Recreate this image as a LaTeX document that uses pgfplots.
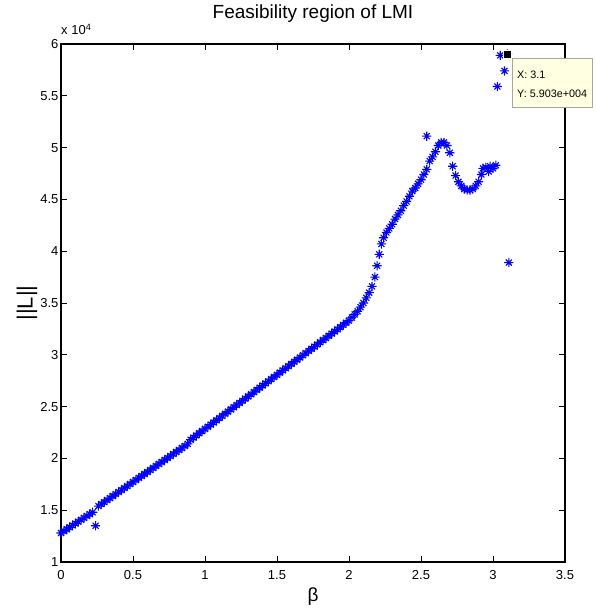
\documentclass[border=0pt]{standalone}
\usepackage{pgfplots}
\pgfplotsset{compat=1.18}
\usepackage{fontspec}
\setmainfont{Liberation Sans}

\definecolor{tipyellow}{RGB}{255,255,225}

% MATLAB-like '*' marker: a plus and a cross
\pgfdeclareplotmark{mstar}{%
  \pgfpathmoveto{\pgfqpoint{-\pgfplotmarksize}{0pt}}%
  \pgfpathlineto{\pgfqpoint{\pgfplotmarksize}{0pt}}%
  \pgfpathmoveto{\pgfqpoint{0pt}{-\pgfplotmarksize}}%
  \pgfpathlineto{\pgfqpoint{0pt}{\pgfplotmarksize}}%
  \pgfpathmoveto{\pgfqpoint{-0.65\pgfplotmarksize}{-0.65\pgfplotmarksize}}%
  \pgfpathlineto{\pgfqpoint{0.65\pgfplotmarksize}{0.65\pgfplotmarksize}}%
  \pgfpathmoveto{\pgfqpoint{-0.65\pgfplotmarksize}{0.65\pgfplotmarksize}}%
  \pgfpathlineto{\pgfqpoint{0.65\pgfplotmarksize}{-0.65\pgfplotmarksize}}%
  \pgfusepathqstroke}

\begin{document}
\begin{tikzpicture}
  \path (0pt,0pt) rectangle (595pt,613pt);
  \begin{axis}[
      at={(61pt,51pt)}, anchor=south west,
      scale only axis, width=504pt, height=518pt,
      xmin=0, xmax=3.5, ymin=10000, ymax=60000,
      xtick={0,0.5,...,3.5},
      xticklabels={0,0.5,1,1.5,2,2.5,3,3.5},
      ytick={10000,15000,...,60000},
      yticklabels={1,1.5,2,2.5,3,3.5,4,4.5,5,5.5,6},
      scaled y ticks=false,
      tick label style={font=\fontsize{13}{15}\selectfont},
      xticklabel style={yshift=-5pt},
      yticklabel style={xshift=1pt},
      major tick length=6pt,
      tick style={black, line width=0.9pt},
      axis line style={line width=1.6pt},
      title={Feasibility region of LMI},
      title style={font=\fontsize{19}{22}\selectfont, at={(axis description cs:0.5,1.048)}, anchor=center},
      xlabel={β},
      xlabel style={font=\fontsize{19}{22}\selectfont, at={(axis description cs:0.5,-0.0676)}, anchor=center},
      ylabel={||L||},
      ylabel style={font=\fontsize{22}{24}\selectfont, at={(axis description cs:-0.0675,0.5)}, anchor=center},
      clip=false,
    ]

    % feasible ||L|| against beta
    \addplot[only marks, blue, mark=mstar, mark size=4.6pt, line width=1.1pt] table {
      x y
      0.00 12800
      0.02 12980
      0.04 13160
      0.06 13350
      0.08 13530
      0.10 13710
      0.12 13890
      0.14 14070
      0.16 14260
      0.18 14440
      0.20 14620
      0.22 14800
      0.24 13500
      0.26 15400
      0.28 15590
      0.30 15780
      0.32 15980
      0.34 16170
      0.36 16360
      0.38 16560
      0.40 16750
      0.42 16940
      0.44 17140
      0.46 17330
      0.48 17520
      0.50 17720
      0.52 17910
      0.54 18110
      0.56 18300
      0.58 18490
      0.60 18690
      0.62 18880
      0.64 19070
      0.66 19270
      0.68 19460
      0.70 19650
      0.72 19850
      0.74 20040
      0.76 20230
      0.78 20430
      0.80 20620
      0.82 20810
      0.84 21010
      0.86 21200
      0.88 21400
      0.90 21800
      0.92 22010
      0.94 22220
      0.96 22430
      0.98 22640
      1.00 22850
      1.02 23050
      1.04 23260
      1.06 23470
      1.08 23680
      1.10 23890
      1.12 24100
      1.14 24310
      1.16 24520
      1.18 24730
      1.20 24940
      1.22 25150
      1.24 25350
      1.26 25560
      1.28 25770
      1.30 25980
      1.32 26190
      1.34 26400
      1.36 26610
      1.38 26820
      1.40 27030
      1.42 27240
      1.44 27440
      1.46 27650
      1.48 27860
      1.50 28070
      1.52 28280
      1.54 28490
      1.56 28700
      1.58 28910
      1.60 29120
      1.62 29330
      1.64 29530
      1.66 29740
      1.68 29950
      1.70 30160
      1.72 30370
      1.74 30580
      1.76 30790
      1.78 31000
      1.80 31210
      1.82 31420
      1.84 31620
      1.86 31830
      1.88 32040
      1.90 32250
      1.92 32460
      1.94 32670
      1.96 32880
      1.98 33090
      2.00 33300
      2.02 33600
      2.04 33900
      2.06 34200
      2.08 34600
      2.10 35000
      2.12 35500
      2.14 36000
      2.16 36600
      2.18 37500
      2.195 38600
      2.21 39700
      2.225 40700
      2.24 41300
      2.26 41800
      2.28 42200
      2.30 42600
      2.32 43100
      2.34 43500
      2.36 43900
      2.38 44400
      2.40 44800
      2.42 45300
      2.44 45800
      2.46 46100
      2.48 46500
      2.50 46900
      2.52 47400
      2.54 47900
      2.54 51100
      2.56 48700
      2.58 49100
      2.60 49600
      2.62 50200
      2.64 50500
      2.66 50500
      2.68 50200
      2.70 49500
      2.72 48200
      2.74 47300
      2.76 46700
      2.78 46300
      2.80 46000
      2.82 45900
      2.84 45900
      2.86 46000
      2.88 46300
      2.90 46700
      2.92 47400
      2.93 48000
      2.95 48100
      2.97 47700
      2.98 48200
      3.00 48000
      3.02 48300
      3.03 55900
      3.05 58900
      3.08 57400
      3.10 59030
      3.11 38900
    };

    % data tip marker
    \addplot[only marks, mark=square*, mark size=4pt, mark options={fill=black, draw=tipyellow}] coordinates {(3.1,59030)};

    \node[anchor=base west, font=\fontsize{13}{15}\selectfont, inner sep=0pt]
      at ([yshift=9pt]axis description cs:0,1) {x 10\textsuperscript{4}};
  \end{axis}

  % data tip box
  \draw[fill=tipyellow, draw=black!35, line width=0.6pt] (512pt,506pt) rectangle (592pt,555pt);
  \node[anchor=base west, inner sep=0pt, font=\fontsize{10.8}{13}\selectfont] at (517pt,534pt) {X: 3.1};
  \node[anchor=base west, inner sep=0pt, font=\fontsize{10.8}{13}\selectfont] at (517pt,515pt) {Y: 5.903e+004};
\end{tikzpicture}
\end{document}
